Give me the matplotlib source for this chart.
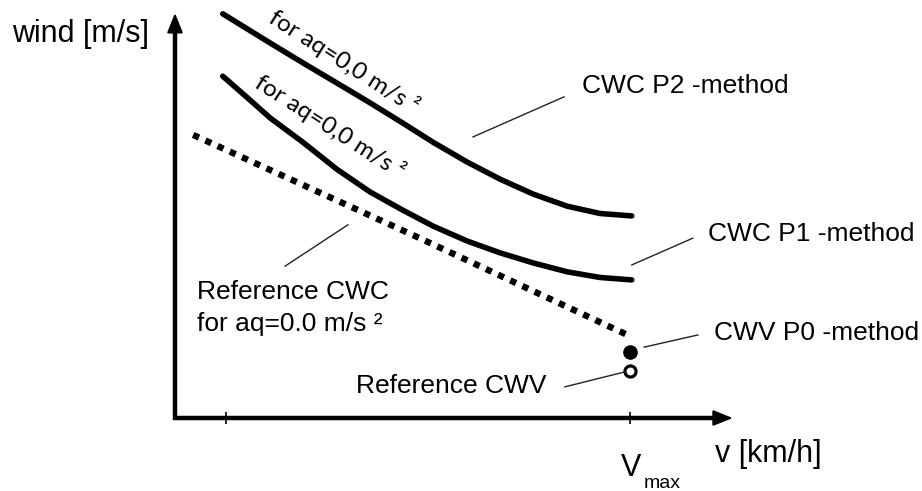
import matplotlib
matplotlib.use("Agg")
import matplotlib.pyplot as plt

plt.rcParams['font.family'] = ['Liberation Sans', 'DejaVu Sans']

# ---- data (schematic units: v with Vmax = 100, wind 0..100) ----
v_p2 = [10.5, 20.9, 28.1, 35.6, 42.9, 50.1, 56.7, 64.2, 71.4, 78.7, 86.2, 93.4, 100.4]
w_p2 = [99.8, 92.6, 87.7, 82.7, 77.8, 72.8, 68.1, 63.2, 59.0, 55.3, 52.3, 50.5, 49.9]

v_p1 = [10.5, 16.5, 20.9, 28.1, 35.6, 42.9, 50.1, 56.7, 64.2, 71.4, 78.7, 86.2, 93.4, 100.4]
w_p1 = [84.4, 78.5, 74.1, 68.1, 61.4, 55.8, 51.3, 47.4, 43.7, 40.8, 38.3, 36.1, 34.7, 34.1]

v_ref = [4.0, 53.8, 100.4]
w_ref = [69.9, 44.4, 20.0]

v_max = 100.0
w_cwv_p0 = 16.3
w_cwv_ref = 11.6

tick_v = [11.2, 100.0]
x_axis_end = 122.6
y_axis_end = 100.0

fig = plt.figure(figsize=(9.22, 4.91), dpi=100)
ax = fig.add_axes([0, 0, 1, 1])
ax.set_xlim(-38.46, 164.18)
ax.set_ylim(-18.02, 103.21)
ax.axis('off')

# axes (L shape) with arrow heads
ax.plot([0, 0, x_axis_end - 2], [y_axis_end - 3, 0, 0], color='black', lw=3.2,
        solid_joinstyle='miter', solid_capstyle='butt')
arrow_kw = dict(arrowstyle='-|>,head_length=0.6,head_width=0.24', color='black',
                lw=1.5, mutation_scale=20, shrinkA=0, shrinkB=0)
ax.annotate('', xy=(0, y_axis_end), xytext=(0, y_axis_end - 8), arrowprops=arrow_kw)
ax.annotate('', xy=(x_axis_end, 0), xytext=(x_axis_end - 8, 0), arrowprops=arrow_kw)

# ticks
ax.plot(tick_v, [0] * len(tick_v), ls='none', marker='|', markersize=8.5,
        markeredgewidth=1.2, color='black')

# curves
ax.plot(v_p2, w_p2, color='black', lw=4.0, solid_capstyle='round', solid_joinstyle='round')
ax.plot(v_p1, w_p1, color='black', lw=4.0, solid_capstyle='round', solid_joinstyle='round')
ax.plot(v_ref, w_ref, color='black', lw=4.6, ls=(0, (1, 1.1)), dash_capstyle='butt')

# points
ax.plot([v_max], [w_cwv_p0], marker='o', markersize=9.5, color='black', ls='none')
ax.plot([v_max], [w_cwv_ref], marker='o', markersize=8, markerfacecolor='white',
        markeredgecolor='black', markeredgewidth=2.3, ls='none')

# leader lines
leaders = [
    ([65.5, 85.5], [69.4, 79.3]),
    ([100.4, 113.8], [37.8, 44.4]),
    ([103.1, 114.9], [17.5, 20.5]),
    ([85.7, 98.9], [7.7, 11.4]),
    ([24.2, 38.0], [37.5, 47.7]),
]
for xs, ys in leaders:
    ax.plot(xs, ys, color='#222222', lw=1.0)

fs = 19
ax.text(89.5, 80.2, 'CWC P2 -method', fontsize=fs, va='baseline', ha='left')
ax.text(117.1, 43.7, 'CWC P1 -method', fontsize=fs, va='baseline', ha='left')
ax.text(118.5, 19.3, 'CWV P0 -method', fontsize=fs, va='baseline', ha='left')
ax.text(4.8, 29.4, 'Reference CWC', fontsize=fs, va='baseline', ha='left')
ax.text(4.8, 21.5, 'for aq=0.0 m/s \u00b2', fontsize=fs, va='baseline', ha='left')
ax.text(39.8, 6.2, 'Reference CWV', fontsize=fs, va='baseline', ha='left')

rot_font = ['Lato', 'DejaVu Sans']
ax.text(37.1, 87.9, 'for aq=0,0 m/s \u00b2', fontsize=17.5, rotation=-32.5,
        rotation_mode='anchor', ha='center', va='center', family=rot_font)
ax.text(34.1, 71.9, 'for aq=0,0 m/s \u00b2', fontsize=17.5, rotation=-32.5,
        rotation_mode='anchor', ha='center', va='center', family=rot_font)

ax.text(-35.8, 92.8, 'wind [m/s]', fontsize=22, va='baseline', ha='left')
ax.text(118.7, -10.9, 'v [km/h]', fontsize=22, va='baseline', ha='left')
ax.text(98.0, -14.3, 'V', fontsize=22, va='baseline', ha='left')
ax.text(103.1, -17.3, 'max', fontsize=14, va='baseline', ha='left')

fig.savefig('out.png', dpi=100)
